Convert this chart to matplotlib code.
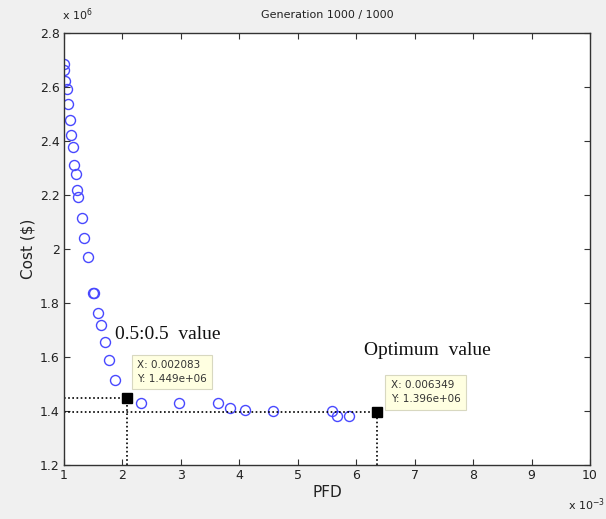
import matplotlib
matplotlib.use("Agg")
import matplotlib.pyplot as plt
import numpy as np

# Pareto front data (PFD, Cost in $)
pfd = [0.001000, 0.001000, 0.001017, 0.001046, 0.001074, 0.001103, 0.001115,
       0.001149, 0.001176, 0.001200, 0.001228, 0.001245, 0.001303, 0.001348,
       0.001406, 0.001500, 0.001505, 0.001577, 0.001628, 0.001702, 0.001776,
       0.001873, 0.002313, 0.002974, 0.003642, 0.003842, 0.004099, 0.004574,
       0.005584, 0.005670, 0.005868]
cost = [2.685e6, 2.663e6, 2.623e6, 2.593e6, 2.537e6, 2.478e6, 2.422e6,
        2.378e6, 2.311e6, 2.278e6, 2.219e6, 2.193e6, 2.115e6, 2.040e6,
        1.969e6, 1.838e6, 1.836e6, 1.764e6, 1.719e6, 1.657e6, 1.589e6,
        1.515e6, 1.429e6, 1.429e6, 1.429e6, 1.410e6, 1.404e6, 1.400e6,
        1.400e6, 1.382e6, 1.382e6]

sel_pfd = [0.002083, 0.006349]
sel_cost = [1.449e6, 1.396e6]
sel_names = ["0.5:0.5  value", "Optimum  value"]

x_ticks = [1, 2, 3, 4, 5, 6, 7, 8, 9, 10]
y_ticks = [1.2, 1.4, 1.6, 1.8, 2.0, 2.2, 2.4, 2.6, 2.8]
y_tick_labels = ["1.2", "1.4", "1.6", "1.8", "2", "2.2", "2.4", "2.6", "2.8"]

xs = np.array(pfd) * 1e3
ys = np.array(cost) / 1e6
sx = np.array(sel_pfd) * 1e3
sy = np.array(sel_cost) / 1e6

bg = "#f0f0f0"
fig = plt.figure(figsize=(6.06, 5.19), dpi=100, facecolor=bg)
ax = fig.add_axes([0.1056, 0.104, 0.868, 0.8324])
ax.set_facecolor("white")

ax.plot(xs, ys, linestyle="none", marker="o", markersize=7.2,
        markerfacecolor="none", markeredgecolor="#4848ff", markeredgewidth=1.0)

# dotted guide lines
for x, y in zip(sx, sy):
    ax.plot([1, x], [y, y], color="black", linestyle=(0, (1, 1.5)), linewidth=1.2)
    ax.plot([x, x], [1.2, y], color="black", linestyle=(0, (1, 1.5)), linewidth=1.2)
ax.plot(sx, sy, linestyle="none", marker="s", markersize=7,
        markerfacecolor="black", markeredgecolor="black")

ax.set_xlim(1, 10)
ax.set_ylim(1.2, 2.8)
ax.set_xticks(x_ticks)
ax.set_xticklabels([str(t) for t in x_ticks])
ax.set_yticks(y_ticks)
ax.set_yticklabels(y_tick_labels)
ax.tick_params(direction="in", top=True, right=True, length=4, width=0.8,
               labelsize=9, colors="#333333", labelcolor="#222222", pad=3)
for sp in ax.spines.values():
    sp.set_color("#333333")
    sp.set_linewidth(1.0)

ax.set_xlabel("PFD", fontsize=11, color="#222222", labelpad=2)
ax.set_ylabel("Cost ($)", fontsize=11, color="#222222", labelpad=3)
ax.set_title("Generation 1000 / 1000", fontsize=8, color="#222222", pad=11)

fig.text(0.102, 0.972, r"x 10$^{6}$", fontsize=8, color="#222222", ha="left", va="center")
fig.text(0.938, 0.027, r"x 10$^{-3}$", fontsize=8, color="#222222", ha="left", va="center")

# annotation labels
ax.text(1.87, 1.684, sel_names[0], fontsize=14, family="Liberation Serif", color="#111111",
        ha="left", va="center")
ax.text(6.13, 1.625, sel_names[1], fontsize=14, family="Liberation Serif", color="#111111",
        ha="left", va="center")

# data tips
tip_style = dict(boxstyle="square,pad=0.5", facecolor="#ffffe1", edgecolor="#d8d8c0", linewidth=0.8)
ax.text(2.25, 1.545, "X: 0.002083\nY: 1.449e+06", fontsize=7.5, color="#333333",
        ha="left", va="center", linespacing=1.5, bbox=tip_style)
ax.text(6.59, 1.469, "X: 0.006349\nY: 1.396e+06", fontsize=7.5, color="#333333",
        ha="left", va="center", linespacing=1.5, bbox=tip_style)

fig.savefig("out.png", dpi=100, facecolor=bg)
